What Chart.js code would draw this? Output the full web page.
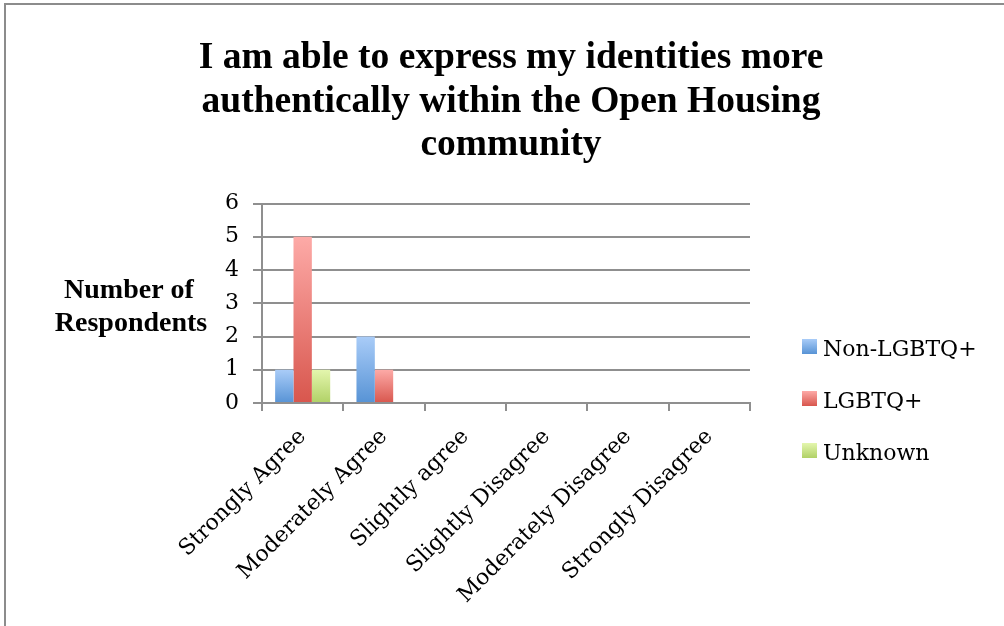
<!DOCTYPE html>
<html>
<head>
<meta charset="utf-8">
<script src="https://cdn.jsdelivr.net/npm/chart.js@4.4.1/dist/chart.umd.min.js"></script>
<style>
  html,body{margin:0;padding:0;background:#fff}
  #wrap{width:1004px;height:626px}
</style>
</head>
<body>
<div id="wrap"><canvas id="c" width="1004" height="626"></canvas></div>
<script>
// survey answers, one count per response bucket
var categories = ['Strongly Agree','Moderately Agree','Slightly agree','Slightly Disagree','Moderately Disagree','Strongly Disagree'];
var nonLgbtq = [1, 2, 0, 0, 0, 0];
var lgbtq    = [5, 1, 0, 0, 0, 0];
var unknown  = [1, 0, 0, 0, 0, 0];
var seriesNames = ['Non-LGBTQ+', 'LGBTQ+', 'Unknown'];
var yMin = 0, yMax = 6, yStep = 1;
var titleLines = ['I am able to express my identities more', 'authentically within the Open Housing', 'community'];
var yTitleLines = ['Number of', 'Respondents'];

// light top -> darker bottom for each series
var shades = [['#a9ccf8', '#5793d5'], ['#fdaaa7', '#d8564d'], ['#e4f6ae', '#b0d166']];
var gridGray = '#8f8f8f';
var tickFont = {family: 'DejaVu Serif', size: 22};

function barFill(i){
  return function(ctx){
    var chart = ctx.chart;
    if(!chart.chartArea || ctx.type !== 'data') return shades[i][1];
    var ys = chart.scales.y;
    var top = ys.getPixelForValue(ctx.raw), base = ys.getPixelForValue(0);
    if(base - top < 1) return shades[i][1];
    var g = chart.ctx.createLinearGradient(0, top, 0, base);
    g.addColorStop(0, shades[i][0]);
    g.addColorStop(1, shades[i][1]);
    return g;
  };
}

var frame = {
  id: 'frame',
  beforeDraw: function(chart){
    var c = chart.ctx;
    c.save();
    c.fillStyle = '#fff';
    c.fillRect(0, 0, chart.width, chart.height);
    c.strokeStyle = '#8c8c8c';
    c.lineWidth = 2;
    c.beginPath();
    c.moveTo(5, chart.height); c.lineTo(5, 4); c.lineTo(chart.width, 4);
    c.stroke();
    c.restore();
  }
};

// horizontal y-axis caption, left of the tick labels
var yCaption = {
  id: 'yCaption',
  afterDraw: function(chart){
    var c = chart.ctx, a = chart.chartArea;
    c.save();
    c.fillStyle = '#000';
    c.font = 'bold 28px "Liberation Serif"';
    c.textAlign = 'center';
    c.textBaseline = 'alphabetic';
    c.fillText(yTitleLines[0], 129, a.top + 94);
    c.fillText(yTitleLines[1], 131, a.top + 127);
    c.restore();
  }
};

// legend sits low on the right, beside the lower half of the plot
var sideLegend = {
  id: 'sideLegend',
  afterDraw: function(chart){
    var c = chart.ctx, a = chart.chartArea;
    var x = a.right + 52, y0 = a.bottom - 64, box = 15, gap = 52;
    c.save();
    c.font = '22px "DejaVu Serif"';
    c.textAlign = 'left';
    c.textBaseline = 'alphabetic';
    chart.data.datasets.forEach(function(ds, i){
      var y = y0 + i * gap;
      var g = c.createLinearGradient(0, y, 0, y + box);
      g.addColorStop(0, shades[i][0]);
      g.addColorStop(1, shades[i][1]);
      c.fillStyle = g;
      c.fillRect(x, y, box, box);
      c.fillStyle = '#000';
      c.fillText(ds.label, x + 21, y + box + 2);
    });
    c.restore();
  }
};

new Chart(document.getElementById('c'), {
  type: 'bar',
  data: {
    labels: categories,
    datasets: [
      {label: seriesNames[0], data: nonLgbtq, backgroundColor: barFill(0), borderWidth: 0},
      {label: seriesNames[1], data: lgbtq, backgroundColor: barFill(1), borderWidth: 0},
      {label: seriesNames[2], data: unknown, backgroundColor: barFill(2), borderWidth: 0}
    ]
  },
  options: {
    responsive: false,
    animation: false,
    events: [],
    datasets: {bar: {categoryPercentage: 0.677, barPercentage: 1}},
    layout: {padding: {left: 18}},
    plugins: {
      legend: {display: false},
      tooltip: {enabled: false},
      title: {
        display: true,
        text: titleLines,
        color: '#000',
        font: {family: 'Liberation Serif', size: 37.5, weight: 'bold', lineHeight: 1.16},
        padding: {top: 37, bottom: 36}
      }
    },
    scales: {
      x: {
        afterFit: function(s){ s.height = 223; },
        grid: {display: true, drawOnChartArea: false, drawTicks: true, tickLength: 8, color: gridGray, lineWidth: 2, offset: true},
        border: {display: true, color: gridGray, width: 2},
        ticks: {color: '#000', font: tickFont, maxRotation: 45, minRotation: 45, autoSkip: false, padding: 13}
      },
      y: {
        min: yMin, max: yMax,
        afterFit: function(s){ s.width = 244; },
        grid: {color: gridGray, lineWidth: 2, tickLength: 9},
        border: {display: true, color: gridGray, width: 2},
        ticks: {stepSize: yStep, color: '#000', font: tickFont, padding: 14}
      },
      // empty right-hand column that keeps room for the legend
      side: {
        type: 'linear',
        position: 'right',
        display: true,
        afterFit: function(s){ s.width = 254; },
        grid: {display: false},
        border: {display: false},
        ticks: {display: false}
      }
    }
  },
  plugins: [frame, yCaption, sideLegend]
});
</script>
</body>
</html>
